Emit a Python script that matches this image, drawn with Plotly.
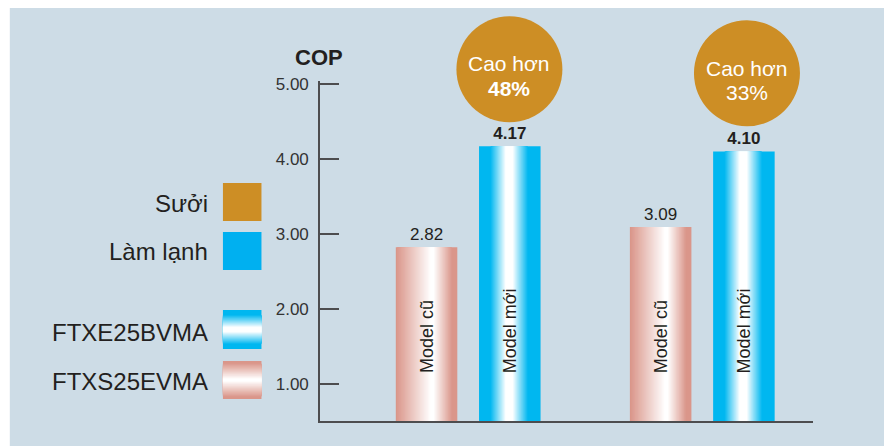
import plotly.graph_objects as go

# ---------------- data ----------------
categories = ["Sưởi", "Làm lạnh"]
old_values = [2.82, 3.09]          # FTXS25EVMA (Model cũ)
new_values = [4.17, 4.10]          # FTXE25BVMA (Model mới)
gain_head = ["Cao hơn", "Cao hơn"]
gain_pct = ["48%", "33%"]
gain_bold = [True, False]
old_label = "Model cũ"
new_label = "Model mới"
y_ticks = [1, 2, 3, 4, 5]
y_title = "COP"
legend_solid = ["Sưởi", "Làm lạnh"]
legend_models = ["FTXE25BVMA", "FTXS25EVMA"]

# ---------------- layout geometry (screen pixels) ----------------
W, H = 892, 446
S = 8                     # page body margin offset
PL, PR, PT, PB = 320, 812.7, 81, 421
XR = [-0.633, 1.473]
YR = [0.5, 5.04]
OFF = 0.1778          # bar centre offset from group centre
BW = 0.2628           # bar width (category units)
FONT = "Liberation Sans, Arial, sans-serif"

PANEL = "#cddce6"
GOLD = "#cd8e25"
BLUE = (0, 183, 240)
PINK = (218, 150, 138)
TXT = "#231f20"


def pp(x, y):
    """screen pixel -> paper"""
    return (x - PL) / (PR - PL), (PB - y) / (PB - PT)


def mix(c, lv):
    r, g, b = (255 + (ci - 255) * lv for ci in c)
    return f"rgb({r:.0f},{g:.0f},{b:.0f})"


N = 30


def blue_layers():
    out = [(0.0, 1.0, 1.0)]
    for k in range(1, N + 1):
        lv = 1 - k / N
        a = 0.18 + (1 - lv) * 0.25
        b = 0.80 - (1 - lv) * 0.25
        out.append((a, b, lv))
    return out


def pink_layers():
    out = [(0.0, 1.0, 1.0)]
    for k in range(1, N + 1):
        lv = 1 - k / N
        a = 0.56 * (1 - lv)
        b = 0.62 + 0.30 * lv
        out.append((a, b, lv))
    return out


fig = go.Figure()

series = [
    (old_values, -OFF, PINK, pink_layers(), False),
    (new_values, +OFF, BLUE, blue_layers(), True),
]
for vals, off, col, lays, bold in series:
    for i, (a, b, lv) in enumerate(lays):
        kw = {}
        if i == 0:
            tmpl = "<b>%{y:.2f}</b>" if bold else "%{y:.2f}"
            kw = dict(texttemplate=tmpl, textposition="outside",
                      textangle=0, constraintext="none",
                      textfont=dict(family=FONT, size=17, color=TXT),
                      cliponaxis=False)
        fig.add_trace(go.Bar(
            x=categories, y=vals,
            width=[BW * (b - a)] * len(vals),
            offset=[off - BW / 2 + BW * a] * len(vals),
            marker=dict(color=mix(col, lv), line=dict(width=0)),
            hoverinfo="skip", showlegend=False, **kw))

shapes = []
annotations = []

# thin white strip at the left (page margin supplies the rest)
x0, y0 = pp(S, S)
x1, y1 = pp(W + S, H + S)
xa, _ = pp(10, 0)
shapes.append(dict(type="rect", xref="paper", yref="paper", x0=x0, x1=xa, y0=y1, y1=y0,
                   fillcolor="white", line=dict(width=0), layer="below"))

# model labels inside the bars
for gi in range(len(categories)):
    for off, lab in ((-OFF, old_label), (OFF, new_label)):
        annotations.append(dict(x=gi + off, y=YR[0], xref="x", yref="y",
                                text=lab, textangle=-90, showarrow=False,
                                xanchor="center", yanchor="bottom", yshift=46,
                                font=dict(family=FONT, size=18, color=TXT)))

# gain circles
circ_px = [(509.3, 69.3, 63.3, 88.3), (746.7, 73.3, 68.3, 92.7)]
for gi, (cx, cy, t1, t2) in enumerate(circ_px):
    px_, py_ = pp(cx, cy)
    shapes.append(dict(type="circle", xref="paper", yref="paper",
                       xsizemode="pixel", ysizemode="pixel",
                       xanchor=px_, yanchor=py_, x0=-53, x1=53, y0=-53, y1=53,
                       fillcolor=GOLD, line=dict(width=0)))
    _, ty1 = pp(cx, t1)
    _, ty2 = pp(cx, t2)
    annotations.append(dict(x=px_, y=ty1, xref="paper", yref="paper", text=gain_head[gi],
                            showarrow=False, xanchor="center", yanchor="middle",
                            font=dict(family=FONT, size=21, color="white")))
    pct = f"<b>{gain_pct[gi]}</b>" if gain_bold[gi] else gain_pct[gi]
    annotations.append(dict(x=px_, y=ty2, xref="paper", yref="paper", text=pct,
                            showarrow=False, xanchor="center", yanchor="middle",
                            font=dict(family=FONT, size=21, color="white")))

# COP title
cx_, cy_ = pp(319.5, 57)
annotations.append(dict(x=cx_, y=cy_, xref="paper", yref="paper", text=f"<b>{y_title}</b>",
                        showarrow=False, xanchor="center", yanchor="middle",
                        font=dict(family=FONT, size=22, color=TXT)))

# legend
leg_text_y = [203, 251, 332.5, 381]
leg_box = [(183, 221), (232, 270), (310, 349), (361, 399)]
names = legend_solid + legend_models
for i, nm in enumerate(names):
    tx, ty = pp(210, leg_text_y[i])
    annotations.append(dict(x=tx, y=ty, xref="paper", yref="paper", text=nm,
                            showarrow=False, xanchor="right", yanchor="middle",
                            font=dict(family=FONT, size=24, color=TXT)))

sx0, _ = pp(223, 0)
sx1, _ = pp(261.5, 0)
for i, colr in enumerate([GOLD, "rgb(0,176,240)"]):
    top, bot = leg_box[i]
    _, yt = pp(0, top)
    _, yb = pp(0, bot)
    shapes.append(dict(type="rect", xref="paper", yref="paper", x0=sx0, x1=sx1,
                       y0=yb, y1=yt, fillcolor=colr, line=dict(width=0)))


def vgrad(top, bot, col, lays):
    _, yt = pp(0, top)
    _, yb = pp(0, bot)
    for a, b, lv in lays:
        shapes.append(dict(type="rect", xref="paper", yref="paper", x0=sx0, x1=sx1,
                           y0=yt + (yb - yt) * b, y1=yt + (yb - yt) * a,
                           fillcolor=mix(col, lv), line=dict(width=0)))


sw_blue = [(0.0, 1.0, 1.0)] + [(0.12 + (k / N) * 0.32, 0.88 - (k / N) * 0.32, 1 - k / N)
                               for k in range(1, N + 1)]
sw_pink = [(0.0, 1.0, 1.0)] + [(0.05 + (k / N) * 0.42, 0.95 - (k / N) * 0.42, 1 - k / N)
                               for k in range(1, N + 1)]
vgrad(*leg_box[2], BLUE, sw_blue)
vgrad(*leg_box[3], PINK, sw_pink)

fig.update_layout(
    width=W, height=H,
    margin=dict(l=PL - S, r=W - (PR - S), t=PT - S, b=H - (PB - S), pad=0, autoexpand=False),
    paper_bgcolor=PANEL, plot_bgcolor="rgba(0,0,0,0)",
    barmode="overlay",
    shapes=shapes, annotations=annotations,
    font=dict(family=FONT, color=TXT),
    xaxis=dict(type="category", range=XR, showgrid=False, zeroline=False,
               showticklabels=False, ticks="", showline=True,
               linecolor="#4d4d4f", linewidth=1.6, fixedrange=True),
    yaxis=dict(range=YR, tickvals=y_ticks, tickformat=".2f", showgrid=False,
               zeroline=False, showline=True, linecolor="#4d4d4f", linewidth=1.6,
               ticks="inside", ticklen=19, tickwidth=1.5, tickcolor="#4d4d4f",
               ticklabelstandoff=6,
               tickfont=dict(family=FONT, size=17, color="#333333"),
               fixedrange=True),
    showlegend=False,
)

fig.write_html("out.html", config={"displayModeBar": False})
